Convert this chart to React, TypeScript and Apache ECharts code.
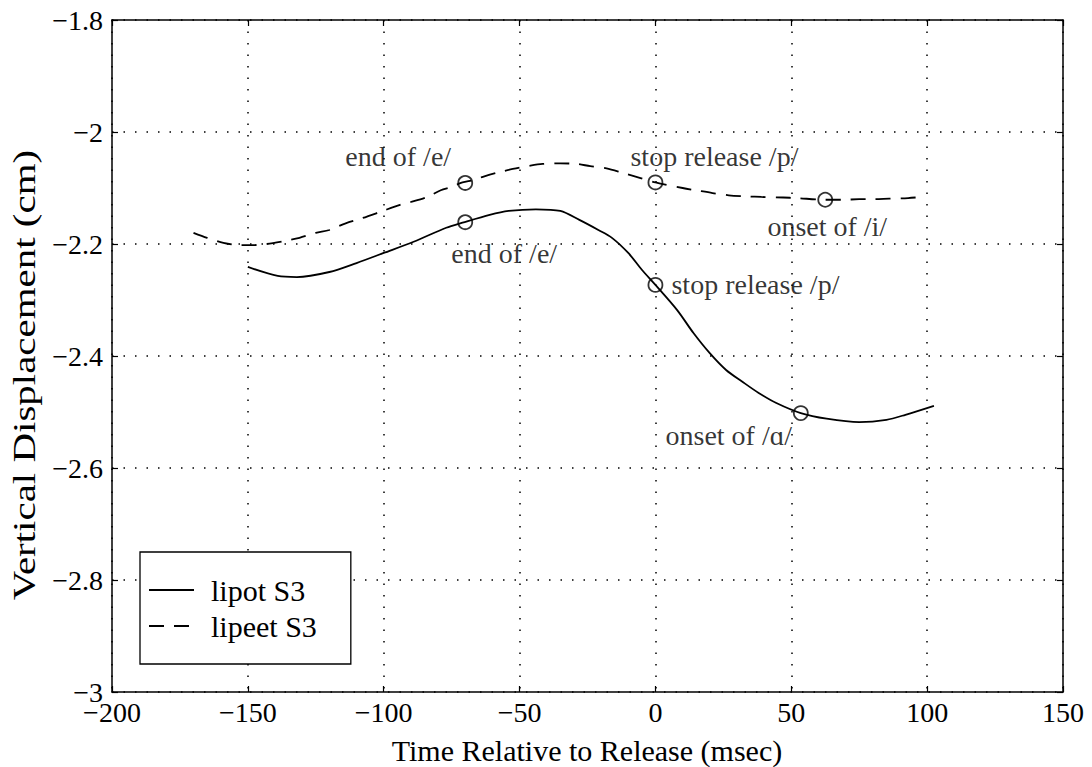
import React, { useEffect, useRef } from "react";
import * as echarts from "echarts";

// ---- data ----
const lipotX = [-150, -139, -132, -120, -110, -100, -89, -77, -71, -61, -54, -44, -35, -28, -21, -16, -10, -5, 0, 8, 14, 20, 26, 32, 38, 44.5, 53.5, 63, 75, 85, 92, 102.5];
const lipotY = [-2.241, -2.257, -2.259, -2.25, -2.234, -2.216, -2.196, -2.171, -2.162, -2.148, -2.141, -2.138, -2.141, -2.157, -2.175, -2.189, -2.216, -2.246, -2.273, -2.318, -2.359, -2.395, -2.425, -2.446, -2.466, -2.484, -2.502, -2.512, -2.518, -2.514, -2.505, -2.489];

const lipeetX = [-170, -165, -159, -153, -148, -143, -137, -131, -125, -120, -114, -108, -101.5, -94, -90, -84, -79, -75, -71, -67, -63.5, -58.5, -52.5, -46, -41.5, -35, -29, -24, -18, -12, -7, 0, 10, 16, 21, 27, 34, 39, 47, 52, 62.5, 69, 75, 80, 86, 93, 98];
const lipeetY = [-2.18, -2.189, -2.198, -2.202, -2.202, -2.2, -2.195, -2.189, -2.18, -2.175, -2.163, -2.154, -2.143, -2.13, -2.125, -2.116, -2.104, -2.098, -2.09, -2.086, -2.08, -2.073, -2.066, -2.06, -2.057, -2.056, -2.057, -2.061, -2.065, -2.073, -2.08, -2.09, -2.1, -2.105, -2.109, -2.113, -2.115, -2.116, -2.117, -2.118, -2.121, -2.121, -2.12, -2.12, -2.119, -2.118, -2.116];

const markX = [-70, 0, 62.5, -70, 0, 53.5];
const markY = [-2.091, -2.09, -2.121, -2.161, -2.273, -2.502];
const markText = ["end of /e/", "stop release /p/", "onset of /i/", "end of /e/", "stop release /p/", "onset of /ɑ/"];

const seriesNames = ["lipot S3", "lipeet S3"];
const xTitle = "Time Relative to Release (msec)";
const yTitle = "Vertical Displacement (cm)";

// label placement relative to each circle (layout only)
const labelOffsets: [number, number][] = [[-67, -26], [59, -26], [2, 27], [39, 31], [100, 0], [-72, 22]];

const FONT = "'Liberation Serif', 'Times New Roman', serif";

function fmt(v: number) {
  const r = +v.toFixed(2);
  return (r < 0 ? "\u2212" : "") + String(Math.abs(r));
}

export default function App() {
  const ref = useRef<HTMLDivElement>(null);
  useEffect(() => {
    if (!ref.current) return;
    const chart = echarts.init(ref.current, null, { renderer: "svg" });
    const axisCommon = {
      type: "value" as const,
      axisLine: { show: true, onZero: false, lineStyle: { color: "#000", width: 1.5 } },
      axisTick: { show: true, inside: true, length: 6, lineStyle: { color: "#000", width: 1.2 } },
    };
    chart.setOption({
      animation: false,
      backgroundColor: "#fff",
      grid: { left: 112, right: 29, top: 20, bottom: 75, containLabel: false },
      xAxis: [
        {
          ...axisCommon,
          min: -200, max: 150, interval: 50,
          axisLabel: { color: "#000", fontFamily: FONT, fontSize: 28, lineHeight: 20, margin: 10, formatter: fmt },
          splitLine: { show: true, lineStyle: { color: "#000", type: [1.5, 10], width: 1.5 } },
        },
        {
          ...axisCommon,
          position: "top",
          min: -200, max: 150, interval: 50,
          axisLabel: { show: false },
          splitLine: { show: false },
        },
      ],
      yAxis: [
        {
          ...axisCommon,
          min: -3, max: -1.8, interval: 0.2,
          axisLabel: { color: "#000", fontFamily: FONT, fontSize: 28, lineHeight: 20, margin: 9, formatter: fmt },
          splitLine: { show: true, lineStyle: { color: "#000", type: [1.5, 10], width: 1.5 } },
        },
        {
          ...axisCommon,
          position: "right",
          min: -3, max: -1.8, interval: 0.2,
          axisLabel: { show: false },
          splitLine: { show: false },
        },
      ],
      legend: {
        data: seriesNames,
        orient: "vertical",
        left: 140,
        top: 552,
        itemWidth: 45,
        itemHeight: 14,
        itemGap: 6,
        padding: [23, 34, 23, 8],
        borderColor: "#000",
        borderWidth: 1.3,
        backgroundColor: "#fff",
        itemStyle: { opacity: 0 },
        textStyle: { color: "#000", fontFamily: FONT, fontSize: 30, padding: [0, 0, 0, 12] },
      },
      series: [
        {
          name: seriesNames[0],
          type: "line",
          data: lipotX.map((x, i) => [x, lipotY[i]]),
          symbol: "none",
          smooth: 0.3,
          lineStyle: { color: "#000", width: 1.8, type: "solid" },
          itemStyle: { color: "#000" },
          z: 3,
        },
        {
          name: seriesNames[1],
          type: "line",
          data: lipeetX.map((x, i) => [x, lipeetY[i]]),
          symbol: "none",
          smooth: 0.3,
          lineStyle: { color: "#000", width: 1.8, type: [15, 10] },
          itemStyle: { color: "#000" },
          z: 3,
        },
        {
          name: "events",
          type: "scatter",
          symbol: "circle",
          symbolSize: 14,
          itemStyle: { color: "transparent", borderColor: "#000", borderWidth: 1.8 },
          z: 4,
          data: markX.map((x, i) => ({
            value: [x, markY[i]],
            label: {
              show: true,
              position: "inside",
              formatter: markText[i],
              offset: labelOffsets[i],
              color: "#000",
              fontFamily: FONT,
              fontSize: 28,
            },
          })),
        },
      ],
      graphic: [
        {
          type: "text",
          x: 587,
          y: 750,
          style: {
            text: xTitle,
            fill: "#000",
            font: `30px ${FONT}`,
            textAlign: "center",
            textVerticalAlign: "middle",
          },
        },
        {
          type: "text",
          x: 24,
          y: 375,
          rotation: Math.PI / 2,
          scaleX: 1.28,
          style: {
            text: yTitle,
            fill: "#000",
            font: `32px ${FONT}`,
            textAlign: "center",
            textVerticalAlign: "middle",
          },
        },
      ],
    });
    return () => chart.dispose();
  }, []);
  return (
    <div
      ref={ref}
      style={{ position: "fixed", left: 0, top: 0, width: 1092, height: 767, background: "#fff" }}
    />
  );
}
